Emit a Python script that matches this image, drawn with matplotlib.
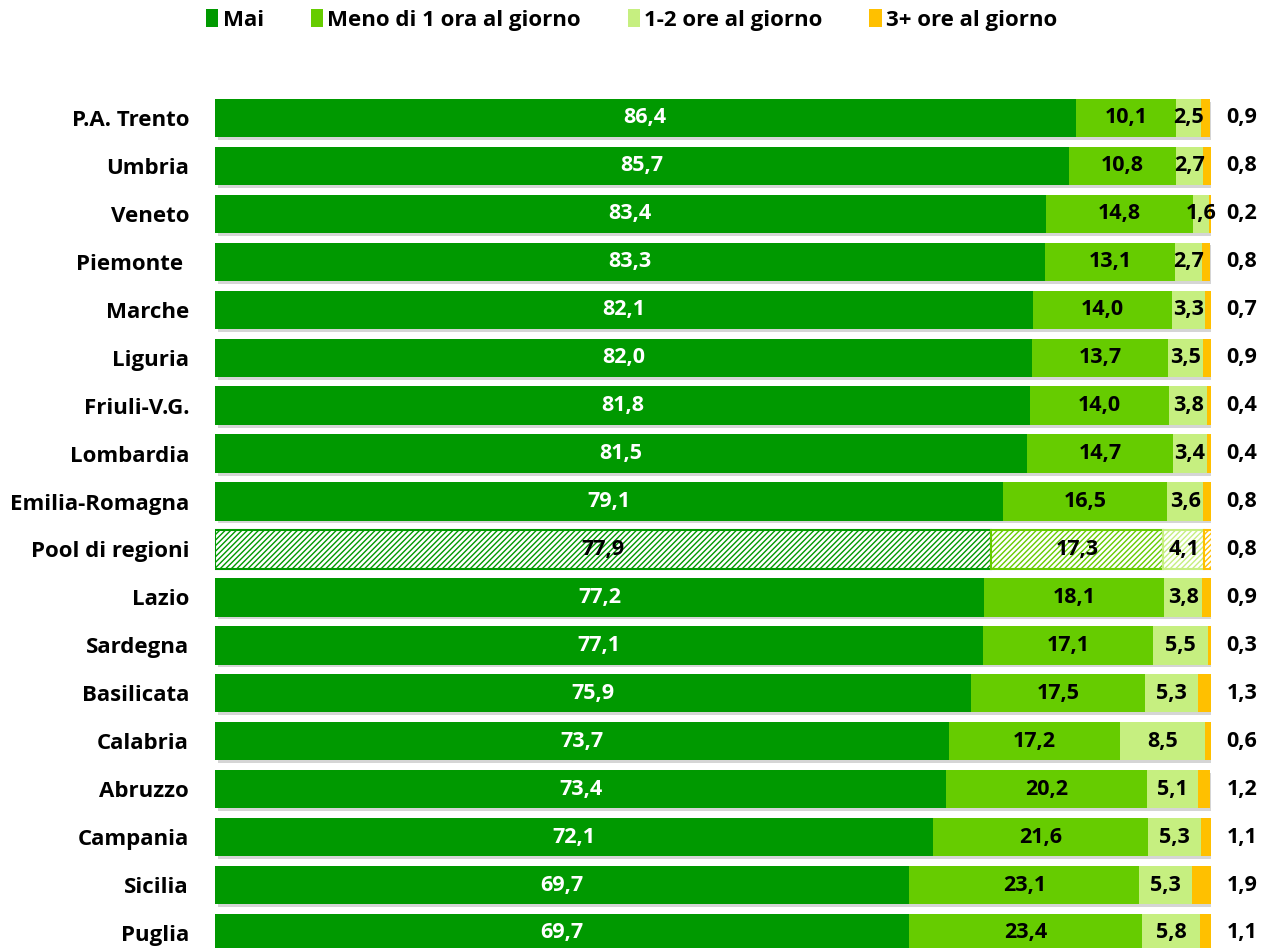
import numpy as np
import matplotlib.pyplot as plt
from matplotlib.patches import Patch
import matplotlib.patheffects as pe

plt.rcParams['font.family'] = ['Open Sans', 'DejaVu Sans']
plt.rcParams['font.weight'] = 'bold'

# Data
regions = ['P.A. Trento', 'Umbria', 'Veneto', 'Piemonte ', 'Marche', 'Liguria',
           'Friuli-V.G.', 'Lombardia', 'Emilia-Romagna', 'Pool di regioni', 'Lazio',
           'Sardegna', 'Basilicata', 'Calabria', 'Abruzzo', 'Campania', 'Sicilia', 'Puglia']
mai = [86.4, 85.7, 83.4, 83.3, 82.1, 82.0, 81.8, 81.5, 79.1, 77.9, 77.2, 77.1, 75.9, 73.7, 73.4, 72.1, 69.7, 69.7]
meno1 = [10.1, 10.8, 14.8, 13.1, 14.0, 13.7, 14.0, 14.7, 16.5, 17.3, 18.1, 17.1, 17.5, 17.2, 20.2, 21.6, 23.1, 23.4]
ore12 = [2.5, 2.7, 1.6, 2.7, 3.3, 3.5, 3.8, 3.4, 3.6, 4.1, 3.8, 5.5, 5.3, 8.5, 5.1, 5.3, 5.3, 5.8]
ore3 = [0.9, 0.8, 0.2, 0.8, 0.7, 0.9, 0.4, 0.4, 0.8, 0.8, 0.9, 0.3, 1.3, 0.6, 1.2, 1.1, 1.9, 1.1]
series_names = ['Mai', 'Meno di 1 ora al giorno', '1-2 ore al giorno', '3+ ore al giorno']
colors = ['#009900', '#66cc00', '#c6ef80', '#ffc000']
pool = 'Pool di regioni'

def fmt(v):
    return f'{v:.1f}'.replace('.', ',')

fig = plt.figure(figsize=(12.71, 9.48), dpi=100)
ax = fig.add_axes([215 / 1271, 0.0, (1211 - 215) / 1271, (948 - 90) / 948])

y = np.arange(len(regions))
series = [mai, meno1, ore12, ore3]
left = np.zeros(len(regions))
shadow = [pe.withSimplePatchShadow(offset=(2, -2), shadow_rgbFace='#888888', alpha=0.35)]

for k, vals in enumerate(series):
    vals = np.array(vals)
    for i in range(len(regions)):
        if regions[i] == pool:
            ax.barh(y[i], vals[i], left=left[i], height=0.8, facecolor='white',
                    edgecolor=colors[k], hatch='//////', linewidth=1.5)
        else:
            ax.barh(y[i], vals[i], left=left[i], height=0.8, color=colors[k],
                    path_effects=shadow)
        if k < 3:
            tcol = 'white' if (k == 0 and regions[i] != pool) else 'black'
            ax.text(left[i] + vals[i] / 2, y[i], fmt(vals[i]), ha='center', va='center',
                    color=tcol, fontsize=15.5, fontweight='bold')
        else:
            ax.text(103.1, y[i], fmt(vals[i]), ha='center', va='center',
                    color='black', fontsize=15.5, fontweight='bold', clip_on=False)
    left += vals

ax.set_xlim(0, 100)
ax.set_ylim(17.313, -0.584)
ax.set_yticks(y)
ax.set_yticklabels(regions, fontsize=16, fontweight='bold')
ax.tick_params(axis='y', length=0, pad=18.7)
ax.set_xticks([])
for s in ax.spines.values():
    s.set_visible(False)

handles = [Patch(facecolor=c, edgecolor='none') for c in colors]
fig.legend(handles, series_names, loc='center', bbox_to_anchor=(0.497, 0.979), ncol=4,
           frameon=False, handlelength=0.55, handleheight=0.9,
           handletextpad=0.2, columnspacing=2.1, prop={'weight': 'bold', 'size': 16})

fig.savefig('out.png', dpi=100)
